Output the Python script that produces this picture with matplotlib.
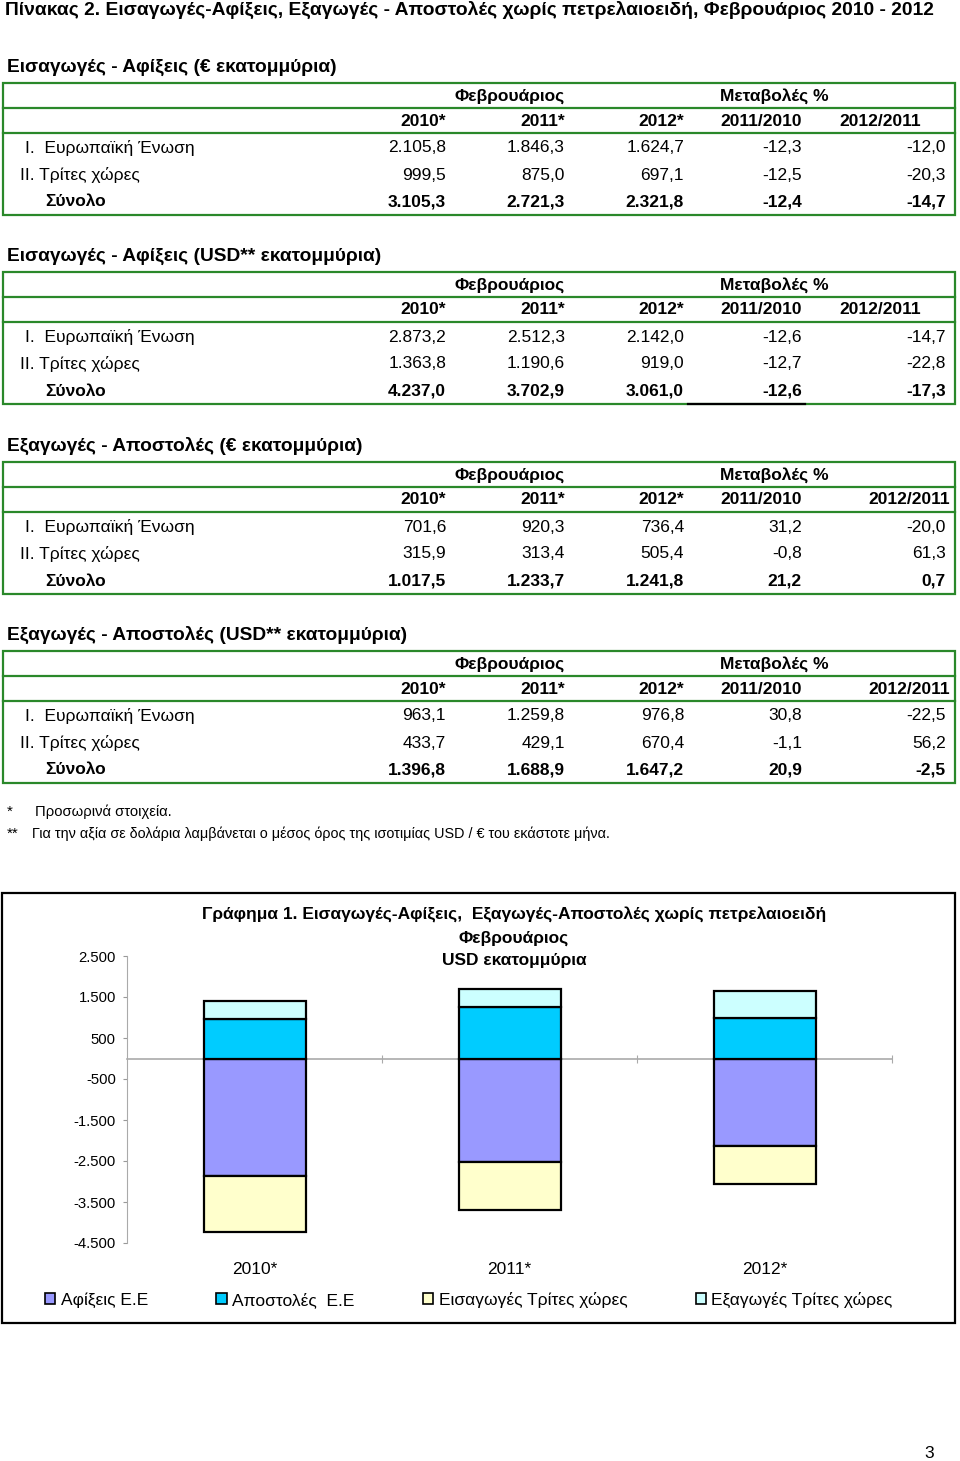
import matplotlib
matplotlib.use('Agg')
import matplotlib.pyplot as plt
import numpy as np

plt.rcParams['font.family'] = ['Liberation Sans', 'DejaVu Sans']

# table data
row_labels = ['I.  Ευρωπαϊκή Ένωση', 'II. Τρίτες χώρες', 'Σύνολο']
years = ['2010*', '2011*', '2012*']
changes = ['2011/2010', '2012/2011']

imp_eur_eu = [2105.8, 1846.3, 1624.7, -12.3, -12.0]
imp_eur_third = [999.5, 875.0, 697.1, -12.5, -20.3]
imp_eur_total = [3105.3, 2721.3, 2321.8, -12.4, -14.7]

imp_usd_eu = [2873.2, 2512.3, 2142.0, -12.6, -14.7]
imp_usd_third = [1363.8, 1190.6, 919.0, -12.7, -22.8]
imp_usd_total = [4237.0, 3702.9, 3061.0, -12.6, -17.3]

exp_eur_eu = [701.6, 920.3, 736.4, 31.2, -20.0]
exp_eur_third = [315.9, 313.4, 505.4, -0.8, 61.3]
exp_eur_total = [1017.5, 1233.7, 1241.8, 21.2, 0.7]

exp_usd_eu = [963.1, 1259.8, 976.8, 30.8, -22.5]
exp_usd_third = [433.7, 429.1, 670.4, -1.1, 56.2]
exp_usd_total = [1396.8, 1688.9, 1647.2, 20.9, -2.5]

headings = ['Εισαγωγές - Αφίξεις (€ εκατομμύρια)',
            'Εισαγωγές - Αφίξεις (USD** εκατομμύρια)',
            'Εξαγωγές - Αποστολές (€ εκατομμύρια)',
            'Εξαγωγές - Αποστολές (USD** εκατομμύρια)']
tables = [[imp_eur_eu, imp_eur_third, imp_eur_total],
          [imp_usd_eu, imp_usd_third, imp_usd_total],
          [exp_eur_eu, exp_eur_third, exp_eur_total],
          [exp_usd_eu, exp_usd_third, exp_usd_total]]

# chart data (USD)
chart_years = ['2010*', '2011*', '2012*']
arrivals_eu = [2873.2, 2512.3, 2142.0]
dispatches_eu = [963.1, 1259.8, 976.8]
imports_third = [1363.8, 1190.6, 919.0]
exports_third = [433.7, 429.1, 670.4]
series_names = ['Αφίξεις Ε.Ε', 'Αποστολές  Ε.Ε', 'Εισαγωγές Τρίτες χώρες', 'Εξαγωγές Τρίτες χώρες']


def gr(v, dec=1):
    s = f"{v:,.{dec}f}"
    return s.replace(',', 'X').replace('.', ',').replace('X', '.')


W, H = 960, 1461
fig = plt.figure(figsize=(W / 100, H / 100), dpi=100)
page = fig.add_axes([0, 0, 1, 1])
page.set_xlim(0, W)
page.set_ylim(H, 0)
page.axis('off')

FS = 12.5
GREEN = '#2a882a'

page.text(5, 10, 'Πίνακας 2. Εισαγωγές-Αφίξεις, Εξαγωγές - Αποστολές χωρίς πετρελαιοειδή, Φεβρουάριος 2010 - 2012',
          fontsize=13.9, fontweight='bold', va='center', ha='left')

tops = [83, 272, 462, 651]
val_x = [446, 565, 684, 802, 946]
for t, (top, head, rows) in enumerate(zip(tops, headings, tables)):
    page.text(7, top - 16, head, fontsize=13.8, fontweight='bold', va='center')
    page.add_patch(plt.Rectangle((3, top), 952, 132, fill=False, ec=GREEN, lw=1.6))
    page.plot([3, 955], [top + 25, top + 25], color=GREEN, lw=1.6)
    page.plot([3, 955], [top + 50, top + 50], color=GREEN, lw=1.6)
    page.text(510, top + 13, 'Φεβρουάριος', fontsize=FS, fontweight='bold', ha='center', va='center')
    page.text(774, top + 13, 'Μεταβολές %', fontsize=FS, fontweight='bold', ha='center', va='center')
    hdr_x = val_x[:4] + ([921] if t < 2 else [950])
    for lab, x in zip(years + changes, hdr_x):
        page.text(x, top + 38, lab, fontsize=FS, fontweight='bold', ha='right', va='center')
    for r, vals in enumerate(rows):
        y = top + 65 + 27 * r
        bold = 'bold' if r == 2 else 'normal'
        lx = [25, 20, 45][r]
        page.text(lx, y, row_labels[r], fontsize=FS, fontweight=bold, va='center')
        for v, x in zip(vals, val_x):
            page.text(x, y, gr(v), fontsize=FS, fontweight=bold, ha='right', va='center')

page.plot([688, 805], [404, 404], color='black', lw=1.6)

# footnotes
page.text(7, 812, '*', fontsize=11, va='center')
page.text(35, 812, 'Προσωρινά στοιχεία.', fontsize=10.6, va='center')
page.text(7, 834, '**', fontsize=11, va='center')
page.text(32, 834, 'Για την αξία σε δολάρια λαμβάνεται ο μέσος όρος της ισοτιμίας USD / € του εκάστοτε μήνα.',
          fontsize=10.4, va='center')

# chart frame and title
page.add_patch(plt.Rectangle((2, 893), 953, 430, fill=False, ec='black', lw=1.6))
for yy, line in zip([915, 938, 961], ['Γράφημα 1. Εισαγωγές-Αφίξεις,  Εξαγωγές-Αποστολές χωρίς πετρελαιοειδή',
                                      'Φεβρουάριος', 'USD εκατομμύρια']):
    page.text(514, yy, line, fontsize=12.5, fontweight='bold', ha='center', va='center')

page.text(929, 1453, '3', fontsize=FS, ha='center', va='center')

# chart
L, R, T, B = 127, 892, 956, 1243
ax = fig.add_axes([L / W, 1 - B / H, (R - L) / W, (B - T) / H])
ax.patch.set_alpha(0)
x = np.arange(len(chart_years))
a_eu = -np.array(arrivals_eu)
i_th = -np.array(imports_third)
d_eu = np.array(dispatches_eu)
e_th = np.array(exports_third)
kw = dict(width=0.4, edgecolor='black', linewidth=1.6, zorder=3)
b1 = ax.bar(x, a_eu, color='#9999ff', **kw)
b2 = ax.bar(x, d_eu, color='#00ccff', **kw)
b3 = ax.bar(x, i_th, bottom=a_eu, color='#ffffcc', **kw)
b4 = ax.bar(x, e_th, bottom=d_eu, color='#ccffff', **kw)

ax.set_xlim(-0.5, 2.5)
ax.set_ylim(-4500, 2500)
yt = np.arange(-4500, 2501, 1000)
ax.set_yticks(yt)
ax.set_yticklabels([gr(v, 0) for v in yt], fontsize=10.7)
ax.tick_params(axis='y', length=3, color='#999999', pad=5)
for s in ['top', 'right']:
    ax.spines[s].set_visible(False)
ax.spines['left'].set_color('#aaaaaa')
ax.spines['bottom'].set_position(('data', 0))
ax.spines['bottom'].set_color('#aaaaaa')
ax.spines['bottom'].set_linewidth(1.2)
ax.set_xticks([0.5, 1.5, 2.5])
ax.set_xticklabels([])
ax.tick_params(axis='x', direction='inout', length=6, color='#aaaaaa')
for i, lab in enumerate(chart_years):
    ax.text(i, -(1269 - B) / (B - T), lab, transform=ax.get_xaxis_transform(),
            fontsize=12.5, ha='center', va='center')

leg = ax.legend([b1, b2, b3, b4], series_names, ncol=4, frameon=False,
                loc='center left', bbox_to_anchor=(45 / W, 1 - 1300 / H),
                bbox_transform=fig.transFigure, fontsize=12.5,
                handlelength=0.6, handleheight=0.6, handletextpad=0.3,
                columnspacing=3.95, borderpad=0, borderaxespad=0)
for h in leg.legend_handles:
    h.set_linewidth(1.2)

fig.savefig('out.png', dpi=100)
